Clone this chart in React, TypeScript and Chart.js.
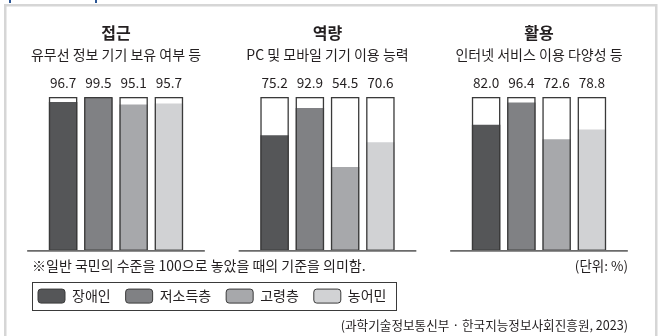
import React, { useEffect, useRef } from "react";
import { Chart, registerables } from "chart.js";

Chart.register(...registerables);

// ---- data ----
const panelTitles = ["접근", "역량", "활용"];
const panelSubtitles = [
  "유무선 정보 기기 보유 여부 등",
  "PC 및 모바일 기기 이용 능력",
  "인터넷 서비스 이용 다양성 등",
];
const groups = ["장애인", "저소득층", "고령층", "농어민"];
const disabled = [96.7, 75.2, 82.0];
const lowIncome = [99.5, 92.9, 96.4];
const elderly = [95.1, 54.5, 72.6];
const farmers = [95.7, 70.6, 78.8];
const generalLevel = [100, 100, 100];
const noteText = "※일반 국민의 수준을 100으로 놓았을 때의 기준을 의미함.";
const unitText = "(단위: %)";
const sourceText = "(과학기술정보통신부 · 한국지능정보사회진흥원, 2023)";

// ---- styles ----
const groupColors = ["#555658", "#808184", "#a7a8ab", "#d1d2d4"];
const FONT = "'Noto Sans CJK KR', 'Noto Sans', sans-serif";
const TEXT = "#231f20";
const OUTLINE = "#3a3a3a";

const series = [disabled, lowIncome, elderly, farmers];

const decorPlugin = {
  id: "decor",
  beforeDraw(chart: any) {
    const ctx = chart.ctx;
    ctx.save();
    ctx.fillStyle = "#d6d6d6";
    ctx.fillRect(4, 4, 653, 2.5);
    ctx.fillRect(4, 4, 2.5, 332);
    ctx.fillRect(655, 4, 2.5, 332);
    ctx.fillStyle = "#2a5595";
    ctx.fillRect(9, 0, 2, 3);
    ctx.fillRect(95, 0, 2, 3);
    ctx.restore();
  },
  afterDatasetsDraw(chart: any) {
    const ctx = chart.ctx;
    const x = chart.scales.x;
    const y = chart.scales.y;
    const y0 = y.getPixelForValue(0);
    ctx.save();
    // reference (general population = 100) boxes
    ctx.strokeStyle = OUTLINE;
    ctx.lineWidth = 1.3;
    series.forEach((_, k) => {
      const meta = chart.getDatasetMeta(k);
      generalLevel.forEach((g, i) => {
        const el = meta.data[i];
        const w = el.width;
        const top = y.getPixelForValue(g);
        ctx.strokeRect(el.x - w / 2 + 0.65, top + 0.65, w - 1.3, y0 - top - 1.3);
      });
    });
    // baseline segments
    ctx.strokeStyle = "#6b6b6b";
    ctx.lineWidth = 1.6;
    panelTitles.forEach((_, i) => {
      ctx.beginPath();
      ctx.moveTo(x.getPixelForValue(i - 0.42), y0);
      ctx.lineTo(x.getPixelForValue(i + 0.42), y0);
      ctx.stroke();
    });
    ctx.restore();
  },
  afterDraw(chart: any) {
    const ctx = chart.ctx;
    const x = chart.scales.x;
    const top = chart.chartArea.top;
    ctx.save();
    ctx.fillStyle = TEXT;
    ctx.textAlign = "center";
    ctx.textBaseline = "middle";
    panelTitles.forEach((t, i) => {
      const cx = x.getPixelForValue(i);
      ctx.font = `bold 16px ${FONT}`;
      ctx.fillText(t, cx, top - 64);
      ctx.font = `14px ${FONT}`;
      ctx.fillText(panelSubtitles[i], cx, top - 42);
    });
    ctx.font = `13.6px ${FONT}`;
    series.forEach((vals, k) => {
      const meta = chart.getDatasetMeta(k);
      vals.forEach((v, i) => {
        const el = meta.data[i];
        ctx.fillText(v.toFixed(1), el.x, top - 14);
      });
    });
    // note
    ctx.textAlign = "left";
    ctx.font = `14px ${FONT}`;
    ctx.fillText(noteText, 32, chart.chartArea.bottom + 15);
    // legend frame
    const hb = chart.legend.legendHitBoxes;
    if (hb && hb.length) {
      const first = hb[0];
      const last = hb[hb.length - 1];
      const l = Math.round(first.left - 6) + 0.5;
      const r = Math.round(last.left + last.width + 10) + 0.5;
      const t = Math.round(first.top - 7) + 0.5;
      const b = Math.round(first.top + first.height + 7) + 0.5;
      ctx.strokeStyle = OUTLINE;
      ctx.lineWidth = 1;
      ctx.strokeRect(l, t, r - l, b - t);
    }
    ctx.restore();
  },
};

export default function App() {
  const ref = useRef<HTMLCanvasElement | null>(null);

  useEffect(() => {
    if (!ref.current) return;
    const valueSets = series.map((vals, k) => ({
      label: groups[k],
      data: vals.map((v, i) => ({ x: i, y: v })),
      backgroundColor: groupColors[k],
      borderColor: OUTLINE,
      borderWidth: 0,
      categoryPercentage: 0.667,
      barPercentage: 0.807,
    }));

    const chart = new Chart(ref.current, {
      type: "bar",
      data: { datasets: valueSets as any },
      options: {
        responsive: false,
        animation: false,
        events: [],
        layout: { padding: { top: 97, left: 23, right: 31, bottom: 3.4 } },
        scales: {
          x: {
            type: "linear",
            min: -0.4397,
            max: 2.4208,
            offset: false,
            display: false,
            grid: { offset: false },
            afterBuildTicks: (s: any) => {
              s.ticks = panelTitles.map((_, i) => ({ value: i }));
            },
          } as any,
          y: { min: 0, max: 100, display: false },
        },
        plugins: {
          tooltip: { enabled: false },
          legend: {
            position: "bottom",
            align: "start",
            labels: {
              boxWidth: 27,
              boxHeight: 14,
              padding: 15,
              useBorderRadius: true,
              borderRadius: 3,
              color: TEXT,
              font: { family: FONT, size: 14 },
              generateLabels: (c: any) =>
                (Chart.defaults.plugins.legend.labels as any)
                  .generateLabels(c)
                  .map((l: any) => ({ ...l, lineWidth: 1, strokeStyle: OUTLINE })),
            },
          },
          title: {
            display: true,
            text: unitText,
            position: "bottom",
            align: "end",
            weight: 100,
            color: TEXT,
            padding: { top: 7, bottom: 0 },
            font: { family: FONT, size: 13.5, weight: "normal" },
          },
          subtitle: {
            display: true,
            text: sourceText,
            position: "bottom",
            align: "end",
            color: TEXT,
            padding: { top: 4.4, bottom: 0 },
            font: { family: FONT, size: 12.6 },
          },
        },
      } as any,
      plugins: [decorPlugin],
    });
    return () => chart.destroy();
  }, []);

  return (
    <div style={{ position: "absolute", left: 0, top: 0, width: 659, height: 336, background: "#fff" }}>
      <canvas ref={ref} width={659} height={336} style={{ display: "block" }} />
    </div>
  );
}
